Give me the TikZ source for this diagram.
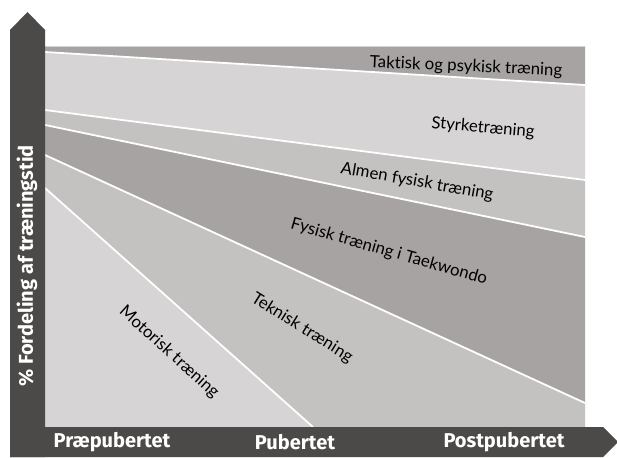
\documentclass[tikz,border=0pt]{standalone}
\usepackage{fontspec}
\setmainfont[Ligatures={NoCommon}]{Lato}
\newfontfamily\axisfont{Fira Sans}
\begin{document}
\begin{tikzpicture}[x=1pt,y=-1pt]
  \definecolor{barcol}{HTML}{4B4A48}
  \definecolor{darkband}{HTML}{A7A3A2}
  \definecolor{midband}{HTML}{C3C2C0}
  \definecolor{lightband}{HTML}{D6D4D5}
  \tikzset{
    band/.style={fill=#1, draw=none},
    divider/.style={draw=white, line width=1.8pt},
    bandlabel/.style={font=\fontsize{16.8}{19}\selectfont, text=black, inner sep=0pt},
    axislabel/.style={font=\axisfont\bfseries\fontsize{20}{23}\selectfont, text=white, inner sep=0pt}
  }
  \useasboundingbox (0,0) rectangle (617,457);

  % corner points of the bands
  \coordinate (tl) at (45,46.5);  \coordinate (tr) at (585,46.5);
  \coordinate (a0) at (45,52);    \coordinate (a1) at (585,85);
  \coordinate (b0) at (45,110);   \coordinate (b1) at (585,180);
  \coordinate (c0) at (45,125);   \coordinate (c1) at (585,237);
  \coordinate (d0) at (45,155);   \coordinate (d1) at (585,403);
  \coordinate (e0) at (45,188);   \coordinate (e1) at (313,427);
  \coordinate (bl) at (45,427);   \coordinate (br) at (585,427);

  % bands
  \fill[band=darkband]  (tl) -- (tr) -- (a1) -- (a0) -- cycle;
  \fill[band=lightband] (a0) -- (a1) -- (b1) -- (b0) -- cycle;
  \fill[band=midband]   (b0) -- (b1) -- (c1) -- (c0) -- cycle;
  \fill[band=darkband]  (c0) -- (c1) -- (d1) -- (d0) -- cycle;
  \fill[band=midband]   (d0) -- (d1) -- (br) -- (e1) -- (e0) -- cycle;
  \fill[band=lightband] (e0) -- (e1) -- (bl) -- cycle;
  \draw[draw=lightband, line width=0.8pt] (tl) -- (tr);

  % white dividers
  \draw[divider] (a0) -- (a1);
  \draw[divider] (b0) -- (b1);
  \draw[divider] (c0) -- (c1);
  \draw[divider] (d0) -- (d1);
  \draw[divider] (e0) -- (e1);

  % axes as arrows
  \fill[barcol] (10,457) -- (10,30) -- (27.5,12) -- (45,30) -- (45,457) -- cycle;
  \fill[barcol] (10,427) -- (603,427) -- (618,442) -- (603,457) -- (10,457) -- cycle;

  % band labels
  \node[bandlabel, rotate=-2.5] (taktisk) at (466,67) {Taktisk og psykisk træning};
  \node[bandlabel, rotate=-5]   (styrke)  at (483,128) {Styrketræning};
  \node[bandlabel, rotate=-10]  (almen)   at (417,182) {Almen fysisk træning};
  \node[bandlabel, rotate=-16]  (tkd)     at (389,252) {Fysisk træning i Taekwondo};
  \node[bandlabel, rotate=-32]  (teknisk) at (302,328) {Teknisk træning};
  \node[bandlabel, rotate=-42]  (motor)   at (169,352) {Motorisk træning};

  % axis labels
  \node[axislabel, rotate=90] (yaxis) at (27,266) {\% Fordeling af træningstid};
  \node[axislabel] (pre)  at (112,442) {Præpubertet};
  \node[axislabel] (pub)  at (295,442) {Pubertet};
  \node[axislabel] (post) at (504,442) {Postpubertet};
\end{tikzpicture}
\end{document}
